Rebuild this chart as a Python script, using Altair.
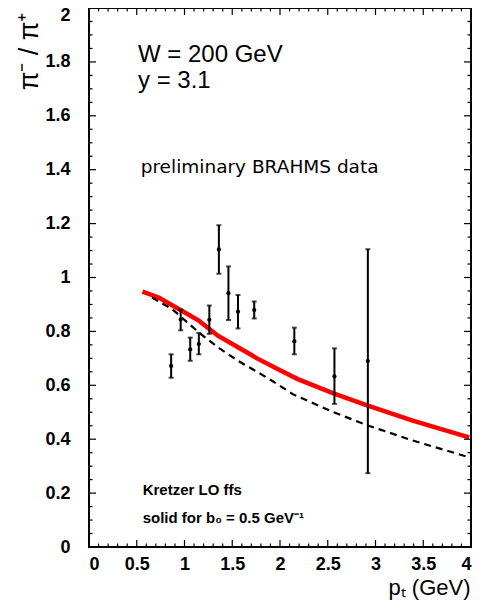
import altair as alt
import pandas as pd

# ---- data ----
pt = [0.86, 0.96, 1.06, 1.15, 1.26, 1.36, 1.46, 1.56, 1.73, 2.15, 2.57, 2.92]
ratio = [0.672, 0.844, 0.733, 0.753, 0.843, 1.104, 0.942, 0.873, 0.879, 0.763, 0.633, 0.690]
err_lo = [0.628, 0.804, 0.691, 0.715, 0.791, 1.014, 0.842, 0.811, 0.848, 0.715, 0.531, 0.274]
err_hi = [0.715, 0.881, 0.777, 0.794, 0.896, 1.194, 1.041, 0.935, 0.911, 0.814, 0.737, 1.105]

solid_pt = [0.56, 0.73, 0.94, 1.15, 1.35, 1.56, 1.77, 1.97, 2.18, 2.56, 2.92, 3.39, 3.98]
solid_ratio = [0.948, 0.926, 0.883, 0.840, 0.784, 0.741, 0.698, 0.661, 0.624, 0.570, 0.525, 0.469, 0.407]

dashed_pt = [0.66, 0.87, 1.15, 1.35, 1.56, 1.77, 1.97, 2.13, 2.56, 2.92, 3.39, 3.98]
dashed_ratio = [0.926, 0.883, 0.796, 0.741, 0.691, 0.648, 0.605, 0.568, 0.500, 0.451, 0.395, 0.333]

x_major = [0, 0.5, 1, 1.5, 2, 2.5, 3, 3.5, 4]
x_minor = [round(0.1 * i, 1) for i in range(41) if i % 5]
y_major = [round(0.2 * i, 1) for i in range(11)]
y_minor = [round(0.05 * i, 2) for i in range(41) if i % 4]

ann_text = ["W = 200 GeV", "y = 3.1", "preliminary BRAHMS data",
            "Kretzer LO ffs", "solid for b\u2080 = 0.5 GeV\u207b\u00b9"]
ann_x = [0.513, 0.513, 0.541, 0.562, 0.562]
ann_y = [1.800, 1.702, 1.387, 0.193, 0.090]

W, H = 382, 539
xs = alt.Scale(domain=[0, 4], nice=False, zero=False)
ys = alt.Scale(domain=[0, 2], nice=False, zero=False)

pts_df = pd.DataFrame({"pt": pt, "r": ratio, "lo": err_lo, "hi": err_hi})
solid_df = pd.DataFrame({"pt": solid_pt, "r": solid_ratio})
dashed_df = pd.DataFrame({"pt": dashed_pt, "r": dashed_ratio})

x_axis = alt.Axis(values=x_major, format="~g", ticks=False, domain=False, grid=False,
                  labelPadding=8, title="p\u209c (GeV)",
                  titleX=W - 1, titleY=47, titleAlign="right", titleBaseline="alphabetic")
y_axis = alt.Axis(values=y_major, format="~g", ticks=False, domain=False, grid=False,
                  labelPadding=19,
                  labelOffset={"condition": {"test": "datum.value == 2", "value": 7}, "value": 0},
                  title="\u03c0\u207b / \u03c0\u207a", titleAngle=270, titleFontSize=27,
                  titleX=-52, titleY=4, titleAlign="right", titleBaseline="alphabetic")


def X(f):
    return alt.X(f, scale=xs, axis=x_axis)


def Y(f):
    return alt.Y(f, scale=ys, axis=y_axis)


solid = alt.Chart(solid_df).mark_line(color="#ff0000", strokeWidth=4.5).encode(x=X("pt:Q"), y=Y("r:Q"))
dashed = alt.Chart(dashed_df).mark_line(color="black", strokeWidth=2.2, strokeDash=[7, 5]).encode(
    x=X("pt:Q"), y=Y("r:Q"))
ebars = alt.Chart(pts_df).mark_rule(color="black", strokeWidth=2).encode(x=X("pt:Q"), y=Y("lo:Q"), y2="hi:Q")
cap_lo = alt.Chart(pts_df).mark_tick(color="black", thickness=2, size=5, orient="horizontal").encode(
    x=X("pt:Q"), y=Y("lo:Q"))
cap_hi = alt.Chart(pts_df).mark_tick(color="black", thickness=2, size=5, orient="horizontal").encode(
    x=X("pt:Q"), y=Y("hi:Q"))
points = alt.Chart(pts_df).mark_point(filled=True, size=18, color="black", opacity=1).encode(
    x=X("pt:Q"), y=Y("r:Q"))


def xticks(vals, y0, y1):
    return alt.Chart(pd.DataFrame({"v": vals})).mark_rule(color="black", strokeWidth=1.2).encode(
        x=X("v:Q"), y=alt.value(y0), y2=alt.value(y1))


def yticks(vals, x0, x1):
    return alt.Chart(pd.DataFrame({"v": vals})).mark_rule(color="black", strokeWidth=1.2).encode(
        y=Y("v:Q"), x=alt.value(x0), x2=alt.value(x1))


ticks = [
    xticks(x_major, H, H - 7), xticks(x_minor, H, H - 3.5),
    xticks(x_major, 0, 7), xticks(x_minor, 0, 3.5),
    yticks(y_major, 0, 7), yticks(y_minor, 0, 3.5),
    yticks(y_major, W, W - 7), yticks(y_minor, W, W - 3.5),
]

ann_df = pd.DataFrame({"t": ann_text, "x": ann_x, "y": ann_y})
ann_style = [
    dict(font="Liberation Sans", fontSize=24, fontWeight="normal"),
    dict(font="Liberation Sans", fontSize=24, fontWeight="normal"),
    dict(font="DejaVu Sans", fontSize=18.5, fontWeight="normal"),
    dict(font="Liberation Sans", fontSize=15, fontWeight="bold"),
    dict(font="Liberation Sans", fontSize=15, fontWeight="bold"),
]
texts = []
for i, st in enumerate(ann_style):
    texts.append(
        alt.Chart(ann_df.iloc[[i]]).mark_text(align="left", baseline="alphabetic", color="black", **st).encode(
            x=X("x:Q"), y=Y("y:Q"), text="t:N")
    )

chart = alt.layer(solid, dashed, ebars, cap_lo, cap_hi, points, *ticks, *texts).properties(
    width=W, height=H,
    background="white",
    padding={"left": 81, "top": 0, "right": 1, "bottom": 58},
    autosize=alt.AutoSizeParams(type="none"),
).configure_view(stroke="black", strokeWidth=2).configure_axis(
    labelFont="Liberation Sans", labelFontSize=18, labelFontWeight="bold", labelColor="black",
    titleFont="Liberation Sans", titleFontSize=22, titleFontWeight="normal", titleColor="black",
)

chart.save("out.html", embed_options={"renderer": "svg", "actions": False})
